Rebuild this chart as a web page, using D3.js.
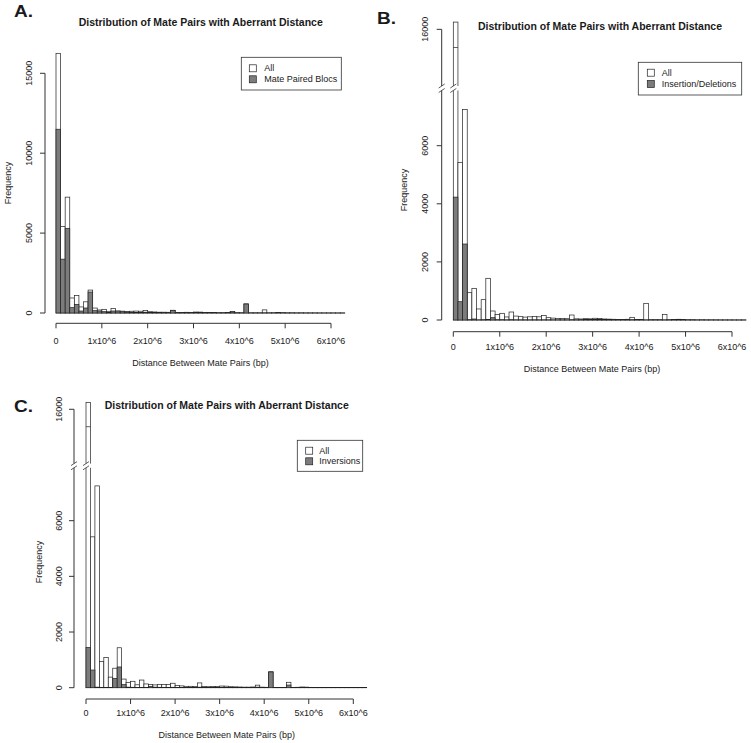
<!DOCTYPE html>
<html><head><meta charset="utf-8">
<script src="https://cdn.jsdelivr.net/npm/d3@7"></script>
<style>
body{margin:0;background:#fff}
svg{display:block}
text{font-family:"Liberation Sans",Arial,Helvetica,sans-serif;fill:#1a1a1a}
</style>
</head><body>
<svg id="chart" width="751" height="743"></svg>
<script>
// ---------- data ----------
const binWidth = 100000;          // histogram bin width (bp)
const binStarts = d3.range(63).map(i => i * binWidth);

const allCounts = [16250, 5420, 7250, 940, 1090, 380, 700, 1435, 310, 190,
  230, 105, 275, 135, 115, 100, 110, 120, 110, 160,
  80, 65, 50, 50, 45, 172, 40, 35, 45, 40,
  60, 55, 35, 30, 25, 20, 20, 25, 92, 20,
  15, 574, 10, 10, 10, 195, 10, 15, 25, 20,
  10, 10, 5, 8, 5, 5, 5, 3, 3, 3, 2, 2, 2];

const matePairedBlocs = [11500, 3370, 5300, 334, 542, 125, 313, 1314, 146, 125,
  83, 42, 125, 80, 80, 60, 50, 40, 40, 50,
  30, 30, 25, 20, 20, 150, 15, 15, 20, 20,
  35, 30, 15, 10, 10, 10, 10, 10, 70, 10,
  5, 560, 5, 5, 5, 10, 5, 5, 10, 10,
  5, 5, 3, 3, 2, 2, 2, 1, 1, 1, 1, 1, 1];

const insertionDeletions = [4230, 630, 2616, 10, 35, 5, 10, 15, 80, 10,
  10, 5, 10, 5, 5, 5, 5, 5, 5, 5,
  5, 5, 5, 5, 5, 10, 5, 10, 20, 15,
  20, 15, 20, 15, 10, 5, 5, 5, 10, 5,
  5, 5, 5, 5, 5, 5, 5, 5, 15, 5,
  3, 3, 2, 2, 2, 2, 1, 1, 1, 1, 1, 1, 1];

const inversions = [1450, 635, 20, 5, 5, 10, 335, 745, 110, 20,
  15, 10, 10, 10, 50, 20, 15, 10, 10, 15,
  10, 10, 10, 10, 10, 20, 10, 10, 10, 10,
  15, 10, 10, 10, 5, 5, 5, 5, 20, 5,
  5, 565, 5, 5, 5, 96, 5, 5, 10, 5,
  3, 3, 2, 2, 2, 2, 1, 1, 1, 1, 1, 1, 1];

const firstBinInnerMark = 15375;  // inner line drawn in the top (broken) segment of first bar

const xTickValues = [0, 1e6, 2e6, 3e6, 4e6, 5e6, 6e6];
const xTickLabels = ["0", "1x10^6", "2x10^6", "3x10^6", "4x10^6", "5x10^6", "6x10^6"];
const yTicksA = [0, 5000, 10000, 15000];
const yTicksGap = [0, 2000, 4000, 6000, 16000];
const gapDomain = [7900, 14050];

const titleText = "Distribution of Mate Pairs with Aberrant Distance";
const xTitleText = "Distance Between Mate Pairs (bp)";
const yTitleText = "Frequency";

// ---------- drawing ----------
const svg = d3.select("#chart");
const GRAY = "#7c7c7c";
const LINE = "#333";

function drawPanel(p) {
  const g = svg.append("g");
  const x = d3.scaleLinear().domain([0, 6e6]).range([p.x0, p.x6]);
  const y = p.gap
    ? d3.scaleLinear().domain([0, gapDomain[0], gapDomain[1], 16700]).range(p.yRange)
    : d3.scaleLinear().domain([0, 15000]).range(p.yRange);
  const base = y(0);

  // histogram bars: All (white) then subset (gray)
  const drawBars = (vals, fill) => {
    g.append("g").selectAll("rect").data(vals).join("rect")
      .attr("x", (d, i) => x(binStarts[i]))
      .attr("width", (d, i) => x(binStarts[i] + binWidth) - x(binStarts[i]))
      .attr("y", d => y(d))
      .attr("height", d => base - y(d))
      .attr("fill", fill).attr("stroke", "#222").attr("stroke-width", 0.7);
  };
  drawBars(allCounts, "#fff");
  drawBars(p.subset, GRAY);

  // inner mark in broken first bar
  if (p.gap) {
    g.append("line")
      .attr("x1", x(binStarts[0])).attr("x2", x(binStarts[0] + binWidth))
      .attr("y1", y(firstBinInnerMark)).attr("y2", y(firstBinInnerMark))
      .attr("stroke", "#222").attr("stroke-width", 0.7);
  }

  // x axis
  const xa = g.append("g");
  xa.append("line").attr("x1", x(0)).attr("x2", x(6e6))
    .attr("y1", p.xAxisY).attr("y2", p.xAxisY).attr("stroke", LINE);
  xTickValues.forEach((v, i) => {
    xa.append("line").attr("x1", x(v)).attr("x2", x(v))
      .attr("y1", p.xAxisY).attr("y2", p.xAxisY + 5).attr("stroke", LINE);
    xa.append("text").attr("x", x(v)).attr("y", p.xLabelY)
      .attr("text-anchor", "middle").attr("dominant-baseline", "central")
      .attr("font-size", 9).text(xTickLabels[i]);
  });

  // y axis
  const ya = g.append("g");
  const ticks = p.gap ? yTicksGap : yTicksA;
  if (p.gap) {
    ya.append("line").attr("x1", p.yAxisX).attr("x2", p.yAxisX)
      .attr("y1", y(0)).attr("y2", y(gapDomain[0])).attr("stroke", LINE);
    ya.append("line").attr("x1", p.yAxisX).attr("x2", p.yAxisX)
      .attr("y1", y(gapDomain[1])).attr("y2", y(16000)).attr("stroke", LINE);
  } else {
    ya.append("line").attr("x1", p.yAxisX).attr("x2", p.yAxisX)
      .attr("y1", y(0)).attr("y2", y(15000)).attr("stroke", LINE);
  }
  ticks.forEach(v => {
    ya.append("line").attr("x1", p.yAxisX - 5).attr("x2", p.yAxisX)
      .attr("y1", y(v)).attr("y2", y(v)).attr("stroke", LINE);
    ya.append("text")
      .attr("transform", `translate(${p.yLabelX},${y(v)}) rotate(-90)`)
      .attr("text-anchor", "middle").attr("dominant-baseline", "central")
      .attr("font-size", 9).text(v);
  });

  // gap break marks
  if (p.gap) {
    const yl = y(gapDomain[0]), yh = y(gapDomain[1]);
    const bx0 = x(binStarts[0]), bx1 = x(binStarts[0] + binWidth);
    g.append("rect").attr("x", bx0 - 1).attr("width", bx1 - bx0 + 2)
      .attr("y", yh).attr("height", yl - yh).attr("fill", "#fff");
    [p.yAxisX, bx0].forEach(cx => {
      [yl, yh].forEach(cy => {
        g.append("line").attr("x1", cx - 3).attr("x2", cx + 3)
          .attr("y1", cy + 2).attr("y2", cy - 2)
          .attr("stroke", LINE).attr("stroke-width", 0.8);
      });
    });
  }

  // titles
  g.append("text").attr("x", p.title[0]).attr("y", p.title[1])
    .attr("text-anchor", "middle").attr("dominant-baseline", "central")
    .attr("font-size", 10.5).attr("font-weight", "bold").text(titleText);
  g.append("text").attr("x", p.xTitle[0]).attr("y", p.xTitle[1])
    .attr("text-anchor", "middle").attr("dominant-baseline", "central")
    .attr("font-size", 9).text(xTitleText);
  g.append("text")
    .attr("transform", `translate(${p.yTitle[0]},${p.yTitle[1]}) rotate(-90)`)
    .attr("text-anchor", "middle").attr("dominant-baseline", "central")
    .attr("font-size", 9).text(yTitleText);
  g.append("text").attr("x", p.label[1]).attr("y", p.label[2])
    .attr("dominant-baseline", "central")
    .attr("font-size", 16).attr("font-weight", "bold").attr("fill", "#000")
    .attr("textLength", 19).attr("lengthAdjust", "spacingAndGlyphs")
    .text(p.label[0]);

  // legend
  const L = p.legend;
  g.append("rect").attr("x", L.box[0]).attr("y", L.box[1])
    .attr("width", L.box[2] - L.box[0]).attr("height", L.box[3] - L.box[1])
    .attr("fill", "#fff").attr("stroke", LINE).attr("stroke-width", 0.8);
  [["All", "#fff"], [p.subsetName, GRAY]].forEach((e, i) => {
    const cy = L.rows[i];
    g.append("rect").attr("x", L.sqX).attr("y", cy - 3.5).attr("width", 7).attr("height", 7)
      .attr("fill", e[1]).attr("stroke", "#222").attr("stroke-width", 0.7);
    g.append("text").attr("x", L.textX).attr("y", cy)
      .attr("dominant-baseline", "central").attr("font-size", 9).text(e[0]);
  });
}

drawPanel({
  subset: matePairedBlocs, subsetName: "Mate Paired Blocs",
  x0: 56, x6: 331, yRange: [313, 73.3], gap: false,
  xAxisY: 323.3, xLabelY: 340.7, yAxisX: 45, yLabelX: 29.3,
  title: [200.7, 21.7], xTitle: [200.5, 363], yTitle: [7.5, 183],
  label: ["A.", 14, 11.7],
  legend: { box: [241.3, 57.3, 341.3, 90], sqX: 249.3, textX: 264.3, rows: [68.3, 79.3] }
});

drawPanel({
  subset: insertionDeletions, subsetName: "Insertion/Deletions",
  x0: 453.3, x6: 732, yRange: [320, 90.5, 86.0, 9.0], gap: true,
  xAxisY: 331.7, xLabelY: 347.3, yAxisX: 441.7, yLabelX: 425,
  title: [600, 25.7], xTitle: [592, 369], yTitle: [404, 190],
  label: ["B.", 377, 18.7],
  legend: { box: [638.3, 62.3, 741.7, 95], sqX: 647.3, textX: 661.7, rows: [72.7, 84] }
});

drawPanel({
  subset: inversions, subsetName: "Inversions",
  x0: 86, x6: 353.3, yRange: [687.7, 467.8, 463.6, 389.8], gap: true,
  xAxisY: 699, xLabelY: 713.3, yAxisX: 74, yLabelX: 59.3,
  title: [226.7, 405], xTitle: [226.7, 735], yTitle: [39, 562],
  label: ["C.", 14, 406],
  legend: { box: [297.3, 440.3, 362.7, 471.3], sqX: 305.7, textX: 319.3, rows: [450.7, 461.3] }
});
</script>
</body></html>
